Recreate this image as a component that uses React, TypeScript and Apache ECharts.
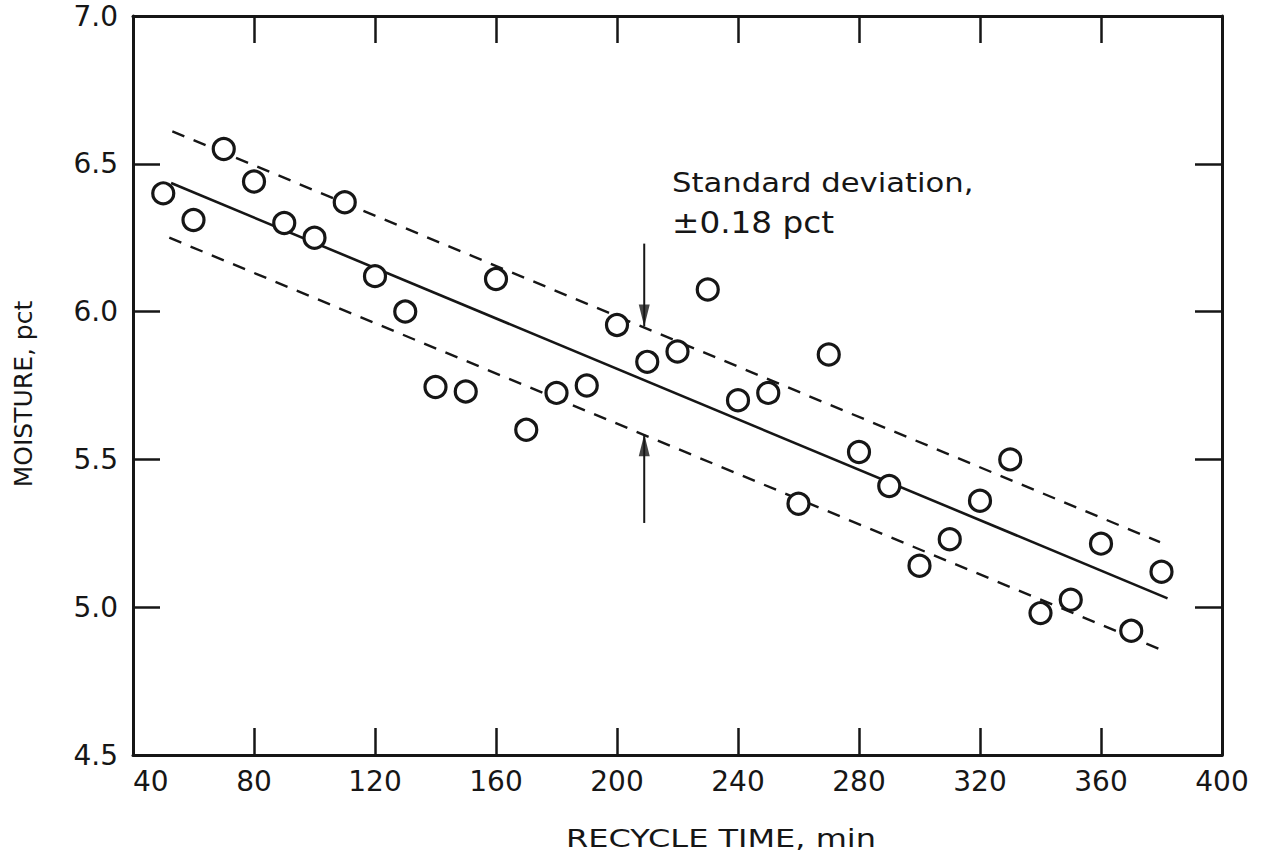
import React, { useEffect, useRef } from "react";
import * as echarts from "echarts";

// Recycle time (min) of each sample
const recycleTime = [
  50, 60, 70, 80, 90, 100, 110, 120, 130, 140, 150, 160, 170, 180, 190, 200, 210,
  220, 230, 240, 250, 260, 270, 280, 290, 300, 310, 320, 330, 340, 350, 360, 370, 380,
];
// Moisture (pct) of each sample
const moisture = [
  6.4, 6.31, 6.55, 6.44, 6.3, 6.25, 6.37, 6.12, 6.0, 5.745, 5.73, 6.11, 5.6, 5.725,
  5.75, 5.955, 5.83, 5.865, 6.075, 5.7, 5.725, 5.35, 5.855, 5.525, 5.41, 5.14, 5.23,
  5.36, 5.5, 4.98, 5.025, 5.215, 4.92, 5.12,
];
// Regression line and the ±0.18 pct standard-deviation band (end points)
const fitLine = [
  [52.6, 6.435],
  [382, 5.03],
];
const upperBand = [
  [53, 6.61],
  [379.5, 5.22],
];
const lowerBand = [
  [52, 6.25],
  [379, 4.86],
];
// Arrows marking the band width at 209 min
const arrowDown = [
  [209, 6.23],
  [209, 5.95],
];
const arrowUp = [
  [209, 5.285],
  [209, 5.585],
];
const xTicks = [40, 80, 120, 160, 200, 240, 280, 320, 360, 400];
const yTicks = ["4.5", "5.0", "5.5", "6.0", "6.5", "7.0"];

export default function App() {
  const ref = useRef<HTMLDivElement>(null);

  useEffect(() => {
    if (!ref.current) return;
    const chart = echarts.init(ref.current, null, { renderer: "svg" });
    const ink = "#161616";
    const font = "DejaVu Sans";
    const points = recycleTime.map((t, i) => [t, moisture[i]]);

    const axisLine = { show: true, onZero: false, lineStyle: { color: ink, width: 3 } };
    const axisTick = { show: true, inside: true, length: 27, lineStyle: { color: ink, width: 2.5 } };

    chart.setOption({
      animation: false,
      backgroundColor: "#ffffff",
      grid: { left: 133, right: 44, top: 16, bottom: 102, containLabel: false },
      xAxis: [
        {
          type: "value",
          min: xTicks[0],
          max: xTicks[xTicks.length - 1],
          interval: 40,
          position: "bottom",
          axisLine,
          axisTick,
          splitLine: { show: false },
          axisLabel: {
            color: ink,
            fontFamily: font,
            fontSize: 28,
            margin: 12,
            alignMinLabel: "left",
            formatter: (v: number) => String(v),
          },
        },
        {
          type: "value",
          min: xTicks[0],
          max: xTicks[xTicks.length - 1],
          interval: 40,
          position: "top",
          axisLine,
          axisTick,
          splitLine: { show: false },
          axisLabel: { show: false },
        },
      ],
      yAxis: [
        {
          type: "value",
          min: Number(yTicks[0]),
          max: Number(yTicks[yTicks.length - 1]),
          interval: 0.5,
          position: "left",
          axisLine,
          axisTick,
          splitLine: { show: false },
          axisLabel: {
            color: ink,
            fontFamily: font,
            fontSize: 28,
            margin: 15,
            formatter: (v: number) => v.toFixed(1),
          },
        },
        {
          type: "value",
          min: Number(yTicks[0]),
          max: Number(yTicks[yTicks.length - 1]),
          interval: 0.5,
          position: "right",
          axisLine,
          axisTick,
          splitLine: { show: false },
          axisLabel: { show: false },
        },
      ],
      series: [
        {
          type: "line",
          data: fitLine,
          symbol: "none",
          silent: true,
          lineStyle: { color: ink, width: 2.6 },
          z: 2,
        },
        {
          type: "line",
          data: upperBand,
          symbol: "none",
          silent: true,
          lineStyle: { color: ink, width: 2.4, type: [13, 10] },
          z: 2,
        },
        {
          type: "line",
          data: lowerBand,
          symbol: "none",
          silent: true,
          lineStyle: { color: ink, width: 2.4, type: [13, 10] },
          z: 2,
        },
        {
          type: "line",
          data: arrowDown,
          symbol: "none",
          silent: true,
          lineStyle: { color: ink, width: 2 },
          z: 3,
        },
        {
          type: "line",
          data: arrowUp,
          symbol: "none",
          silent: true,
          lineStyle: { color: ink, width: 2 },
          z: 3,
        },
        {
          type: "scatter",
          data: [arrowDown[1]],
          symbol: "triangle",
          symbolSize: [11, 22],
          symbolRotate: 180,
          symbolOffset: [0, -11],
          silent: true,
          itemStyle: { color: ink },
          z: 3,
        },
        {
          type: "scatter",
          data: [arrowUp[1]],
          symbol: "triangle",
          symbolSize: [11, 22],
          symbolOffset: [0, 11],
          silent: true,
          itemStyle: { color: ink },
          z: 3,
        },
        {
          type: "scatter",
          data: points,
          symbol: "circle",
          symbolSize: 21,
          silent: true,
          itemStyle: { color: "#ffffff", borderColor: ink, borderWidth: 3.2, opacity: 1 },
          z: 5,
        },
      ],
      graphic: [
        {
          type: "text",
          x: 672,
          y: 183,
          scaleX: 1.18,
          style: {
            text: "Standard deviation,",
            fontFamily: font,
            fontSize: 26,
            fill: ink,
            align: "left",
            verticalAlign: "middle",
            textAlign: "left",
            textVerticalAlign: "middle",
          },
        },
        {
          type: "text",
          x: 672,
          y: 222,
          scaleX: 1.09,
          style: {
            text: "±0.18 pct",
            fontFamily: font,
            fontSize: 30,
            fill: ink,
            align: "left",
            verticalAlign: "middle",
            textAlign: "left",
            textVerticalAlign: "middle",
          },
        },
        {
          type: "text",
          x: 721,
          y: 838,
          scaleX: 1.28,
          style: {
            text: "RECYCLE TIME, min",
            fontFamily: font,
            fontSize: 25,
            fill: ink,
            align: "center",
            verticalAlign: "middle",
            textAlign: "center",
            textVerticalAlign: "middle",
          },
        },
        {
          type: "text",
          x: 23,
          y: 394,
          rotation: Math.PI / 2,
          style: {
            text: "MOISTURE, pct",
            fontFamily: font,
            fontSize: 25,
            fill: ink,
            align: "center",
            verticalAlign: "middle",
            textAlign: "center",
            textVerticalAlign: "middle",
          },
        },
      ],
    });

    return () => chart.dispose();
  }, []);

  return (
    <div
      ref={ref}
      style={{ position: "absolute", left: 0, top: 0, width: 1266, height: 857, background: "#fff" }}
    />
  );
}
